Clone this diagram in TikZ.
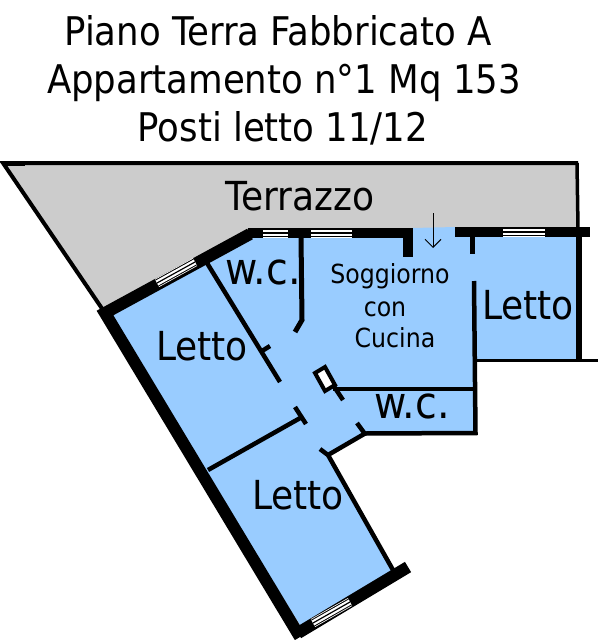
\documentclass[tikz,border=0pt]{standalone}
\usepackage{fontspec}
\setmainfont{DejaVu Sans Condensed}
\usetikzlibrary{arrows.meta}
\definecolor{roomblue}{HTML}{99CCFF}
\definecolor{terracegray}{HTML}{CCCCCC}
\tikzstyle{wall} = [draw=black, line width=4.5pt]
\tikzstyle{thickwall} = [draw=black, line width=12pt]
\tikzstyle{topwall} = [draw=black, line width=10pt]
\tikzstyle{titletext} = [anchor=base, inner sep=0pt, font=\fontsize{39.5}{39.5}\selectfont]
\tikzstyle{bigtext} = [anchor=base, inner sep=0pt, font=\fontsize{40}{40}\selectfont]
\tikzstyle{bathtext} = [anchor=base, inner sep=0pt, font=\fontsize{44}{44}\selectfont]
\tikzstyle{smalltext} = [anchor=base, inner sep=0pt, font=\fontsize{26.3}{26.3}\selectfont]
\newcommand{\windowpane}[2]{%
\draw [line width=9pt, white] #1 -- #2;
\draw [line width=7.5pt, black] #1 -- #2;
\draw [line width=5.5pt, white] #1 -- #2;
\draw [line width=1.2pt, black] #1 -- #2;
}

\begin{document}
\begin{tikzpicture}[x=1pt, y=-1pt]
        \useasboundingbox (0,0) rectangle (600,640);
        \fill [terracegray] (3,163) -- (578,163) -- (578,230) -- (250,232) -- (103,310) -- cycle;
        \fill [roomblue] (250,235) -- (412,228) -- (456,227) -- (456,236) -- (579,236) -- (579,360) -- (475,360)
            -- (475,432) -- (365,433) -- (328,455) -- (394,570) -- (302,628) -- (105,312) -- cycle;

        \draw [wall, line width=4pt] (578,163) -- (3,163) -- (103,310);
        \draw [line width=5pt] (5,163) -- (25,163);
        \draw [wall, line width=3.5pt] (577,163) -- (578,228);

        \draw [thickwall, line join=miter] (300,637) -- (105,313) -- (250,234);
        \draw [topwall] (248,232.5) -- (413,232.5);
        \draw [thickwall] (298,633) -- (408,567);
        \draw [topwall] (455,231.5) -- (590,231.5);
        \draw [topwall] (408,233) -- (408,257);
        \windowpane{(157,283)}{(195,262)}
        \windowpane{(263,233)}{(288,233)}
        \windowpane{(311,233)}{(352,233)}
        \windowpane{(503,232)}{(545,232)}
        \windowpane{(313,623)}{(350,602)}

        \draw [wall, line width=5.5pt] (579,236) -- (579,361);
        \draw [wall, line width=3.5pt] (475,360.5) -- (598,360.5);
        \draw [wall] (472.5,236) -- (472.5,254);
        \draw [wall] (474,281) -- (475.5,433) -- (365,433.5) -- (328,455);
        \draw [wall] (357,423) -- (365,434);
        \draw [wall] (320,449) -- (328,455) -- (393,570);
        \draw [wall] (333,389) -- (475,389);
        \draw [wall] (333,385) -- (343,400);
        \draw [wall, fill=white, line width=4pt] (315,373) -- (325,367) -- (335,385) -- (325,391) -- cycle;
        \draw [wall] (207,263) -- (280,382);
        \draw [wall] (262,351) -- (270,346);
        \draw [wall] (208,470) -- (302,417);
        \draw [wall] (295,407) -- (306,424);
        \draw [wall, line width=5pt] (301,237) -- (302,320) -- (295,332);

        \coordinate (arrowtop) at (433,213);
        \coordinate (arrowend) at (433,248);
        \draw [-{Straight Barb[length=8pt,width=16pt]}, line width=1pt] (arrowtop) -- (arrowend);

        \node [titletext] (titleone) at (278,45) {Piano Terra Fabbricato A};
        \node [titletext] (titletwo) at (284,93) {Appartamento n°1 Mq 153};
        \node [titletext] (titlethree) at (283,141) {Posti letto 11/12};
        \node [bigtext] (terrace) at (300,210) {Terrazzo};
        \node [bigtext] (bedleft) at (202,360) {Letto};
        \node [bigtext] (bedright) at (528,319) {Letto};
        \node [bigtext] (bedbottom) at (298,509) {Letto};
        \node [bathtext] (bathtop) at (263,284) {w.c.};
        \node [bathtext] (bathbottom) at (412,418) {w.c.};
        \node [smalltext] (livingone) at (390,283) {Soggiorno};
        \node [smalltext] (livingtwo) at (385,316) {con};
        \node [smalltext] (livingthree) at (395,347) {Cucina};
    \end{tikzpicture}
\end{document}
